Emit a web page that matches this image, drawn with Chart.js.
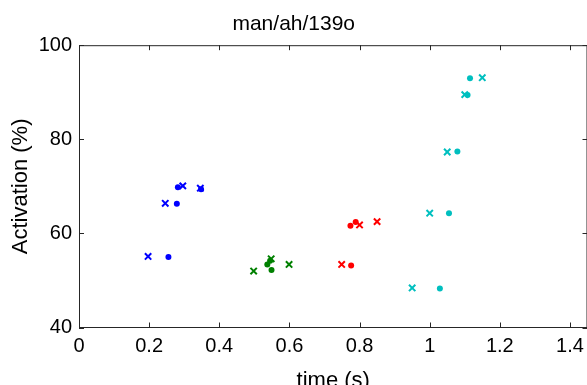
<!DOCTYPE html>
<html>
<head>
<meta charset="UTF-8">
<script src="https://cdn.jsdelivr.net/npm/chart.js"></script>
<style>
  html, body { margin: 0; padding: 0; background: #fff; overflow: hidden; }
  #wrap { width: 600px; height: 400px; }
</style>
</head>
<body>
<div id="wrap"><canvas id="chart" width="600" height="400"></canvas></div>
<script>
// time (s) and activation (%) per group, 'x' markers and '.' markers
var blueCrossT = [0.197, 0.246, 0.296, 0.346];
var blueCrossA = [55.1, 66.4, 70.1, 69.6];
var blueDotT = [0.255, 0.279, 0.282, 0.348];
var blueDotA = [55.0, 66.3, 69.8, 69.4];

var greenCrossT = [0.498, 0.548, 0.599];
var greenCrossA = [52.0, 54.6, 53.4];
var greenDotT = [0.537, 0.549, 0.545];
var greenDotA = [53.4, 52.2, 54.2];

var redCrossT = [0.749, 0.80, 0.85];
var redCrossA = [53.4, 61.8, 62.5];
var redDotT = [0.776, 0.774, 0.789];
var redDotA = [53.2, 61.6, 62.4];

var cyanCrossT = [0.95, 1.0, 1.05, 1.10, 1.15];
var cyanCrossA = [48.4, 64.3, 77.3, 89.5, 93.1];
var cyanDotT = [1.029, 1.055, 1.079, 1.108, 1.115];
var cyanDotA = [48.3, 64.3, 77.4, 89.4, 93.0];

var yTicks = [40, 60, 80, 100];

function pts(t, a) {
    return t.map(function (v, i) { return { x: v, y: a[i] }; });
}

function crossSet(t, a, color) {
    return { data: pts(t, a), pointStyle: 'crossRot', radius: 4.5, borderWidth: 2,
             borderColor: color, backgroundColor: color };
}
function dotSet(t, a, color) {
    return { data: pts(t, a), pointStyle: 'circle', radius: 3, borderWidth: 0,
             borderColor: color, backgroundColor: color };
}

var FONT = "'Liberation Sans', Arial, sans-serif";
var AXIS = '#262626';

// box on top/right and inward ticks, like matlab
var boxPlugin = {
    id: 'box',
    afterDraw: function (chart) {
        var ctx = chart.ctx, a = chart.chartArea;
        var xs = chart.scales.x, ys = chart.scales.y;
        ctx.save();
        ctx.strokeStyle = AXIS;
        ctx.lineWidth = 1;
        ctx.beginPath();
        ctx.moveTo(a.left, a.top + 0.5); ctx.lineTo(a.right, a.top + 0.5);
        ctx.moveTo(a.right - 0.5, a.top); ctx.lineTo(a.right - 0.5, a.bottom);
        xs.ticks.forEach(function (tk) {
            var px = Math.round(xs.getPixelForValue(tk.value)) + 0.5;
            ctx.moveTo(px, a.bottom); ctx.lineTo(px, a.bottom - 5);
            ctx.moveTo(px, a.top); ctx.lineTo(px, a.top + 5);
        });
        ys.ticks.forEach(function (tk) {
            var py = Math.round(ys.getPixelForValue(tk.value)) + 0.5;
            ctx.moveTo(a.left, py); ctx.lineTo(a.left + 5, py);
            ctx.moveTo(a.right, py); ctx.lineTo(a.right - 5, py);
        });
        ctx.stroke();
        ctx.restore();
    }
};

new Chart(document.getElementById('chart').getContext('2d'), {
    type: 'scatter',
    data: {
        datasets: [
            crossSet(blueCrossT, blueCrossA, '#0000ff'),
            dotSet(blueDotT, blueDotA, '#0000ff'),
            crossSet(greenCrossT, greenCrossA, '#008000'),
            dotSet(greenDotT, greenDotA, '#008000'),
            crossSet(redCrossT, redCrossA, '#ff0000'),
            dotSet(redDotT, redDotA, '#ff0000'),
            crossSet(cyanCrossT, cyanCrossA, '#00bfbf'),
            dotSet(cyanDotT, cyanDotA, '#00bfbf')
        ]
    },
    options: {
        responsive: false,
        animation: false,
        devicePixelRatio: 1,
        layout: { padding: { left: 0, top: 0, right: 12.5, bottom: 0 } },
        plugins: {
            legend: { display: false },
            tooltip: { enabled: false },
            title: {
                display: true,
                text: 'man/ah/139o',
                color: '#000',
                font: { family: FONT, size: 21, weight: 'normal' },
                padding: { top: 12, bottom: 8 }
            }
        },
        scales: {
            x: {
                type: 'linear',
                min: 0,
                max: 1.45,
                grid: { display: false, drawTicks: false },
                border: { display: true, color: AXIS, width: 1 },
                ticks: {
                    stepSize: 0.2,
                    includeBounds: false,
                    padding: 7,
                    color: '#000',
                    maxRotation: 0,
                    autoSkip: false,
                    font: { family: FONT, size: 20 },
                    callback: function (v) { return String(+v.toFixed(1)); }
                },
                title: {
                    display: true,
                    text: 'time (s)',
                    color: '#000',
                    font: { family: FONT, size: 22 },
                    padding: { top: 0, bottom: 6 }
                },
                afterFit: function (s) { s.height = 72.5; }
            },
            y: {
                type: 'linear',
                min: yTicks[0],
                max: yTicks[yTicks.length - 1],
                grid: { display: false, drawTicks: false },
                border: { display: true, color: AXIS, width: 1 },
                afterBuildTicks: function (s) {
                    s.ticks = yTicks.map(function (v) { return { value: v }; });
                },
                ticks: {
                    padding: 7,
                    color: '#000',
                    font: { family: FONT, size: 20 }
                },
                title: {
                    display: true,
                    text: 'Activation (%)',
                    color: '#000',
                    font: { family: FONT, size: 22 },
                    padding: { top: 8, bottom: 0 }
                },
                afterFit: function (s) { s.width = 79; }
            }
        }
    },
    plugins: [boxPlugin]
});
</script>
</body>
</html>
